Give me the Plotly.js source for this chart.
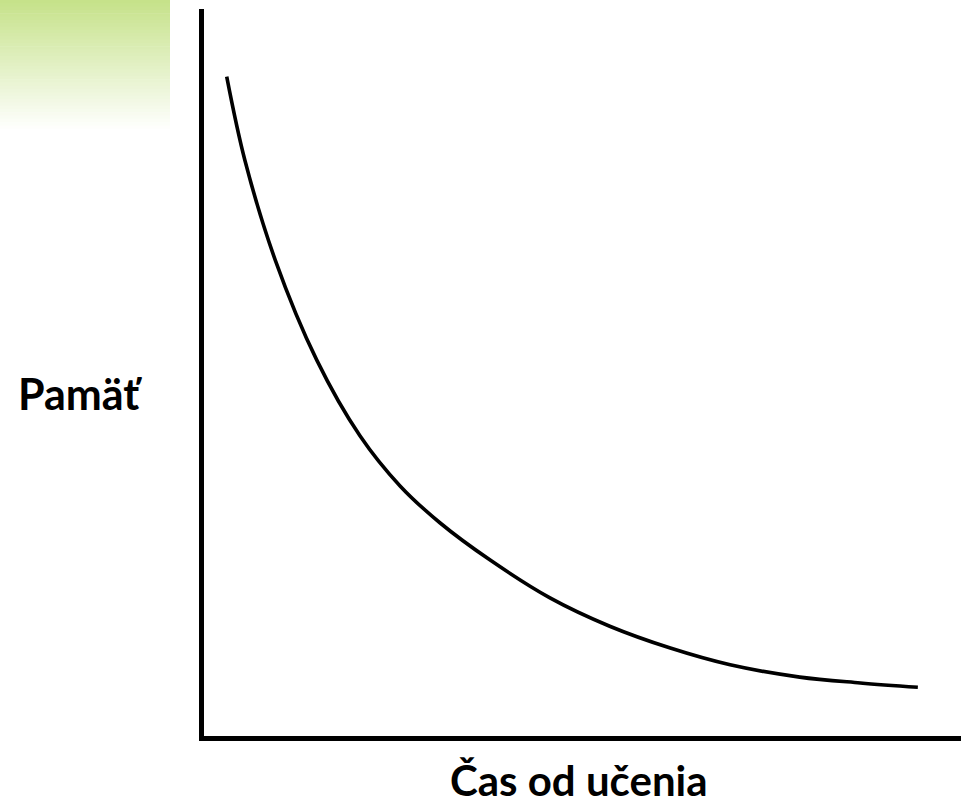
<!DOCTYPE html>
<html>
<head>
<meta charset="utf-8">
<script src="https://cdn.plot.ly/plotly-3.0.1.min.js"></script>
<style>
  html, body { margin: 0; padding: 0; background: #ffffff; }
  #chart { width: 961px; height: 808px; }
</style>
</head>
<body>
<div id="chart"></div>
<script>
// Forgetting curve (relative units 0-100)
const timeSinceLearning = [3.0, 5.4, 9.4, 14.9, 20.6, 25.9, 31.2, 37.8, 45.7, 53.6, 61.6, 69.5, 78.7, 86.7, 94.3];
const memory = [90.7, 79.2, 65.5, 51.7, 41.3, 34.4, 29.3, 24.2, 19.0, 15.1, 12.1, 9.8, 8.1, 7.3, 6.7];
const xAxisLabel = "Čas od učenia";
const yAxisLabel = "Pamäť";

const W = 961, H = 808;

// green gradient decoration in the top-left corner (built from thin bands)
const shapes = [];
const bands = 40;
const gTop = [198, 226, 138];
const gBot = [255, 255, 255];
const gx1 = 170, gh = 132;
for (let i = 0; i < bands; i++) {
  const t = i / (bands - 1);
  const c = gTop.map((v, k) => Math.round(v + (gBot[k] - v) * t));
  const y0 = gh * i / bands, y1 = gh * (i + 1) / bands + 0.6;
  shapes.push({
    type: 'rect', xref: 'paper', yref: 'paper', layer: 'below',
    x0: 0, x1: gx1 / W, y0: 1 - y1 / H, y1: 1 - y0 / H,
    line: { width: 0 }, fillcolor: `rgb(${c[0]},${c[1]},${c[2]})`
  });
}

const trace = {
  x: timeSinceLearning,
  y: memory,
  type: 'scatter',
  mode: 'lines',
  line: { color: '#000000', width: 3.6, shape: 'spline', smoothing: 1 },
  hoverinfo: 'skip'
};

const layout = {
  width: W, height: H,
  margin: { l: 0, r: 0, t: 0, b: 0, pad: 0 },
  paper_bgcolor: '#ffffff',
  plot_bgcolor: 'rgba(0,0,0,0)',
  showlegend: false,
  xaxis: {
    domain: [204 / W, 1],
    range: [0, 100],
    showline: true, linecolor: '#000000', linewidth: 5,
    showgrid: false, zeroline: false, ticks: '', showticklabels: false,
    fixedrange: true
  },
  yaxis: {
    domain: [(H - 736) / H, (H - 9) / H],
    range: [0, 100],
    showline: true, linecolor: '#000000', linewidth: 5,
    showgrid: false, zeroline: false, ticks: '', showticklabels: false,
    fixedrange: true
  },
  shapes: shapes,
  annotations: [
    {
      text: '<b>' + yAxisLabel + '</b>', xref: 'paper', yref: 'paper',
      x: 16 / W, y: 1 - 393 / H, xanchor: 'left', yanchor: 'middle',
      showarrow: false,
      font: { family: 'Lato, "Open Sans", sans-serif', size: 43, color: '#000000' }
    },
    {
      text: '<b>' + xAxisLabel + '</b>', xref: 'paper', yref: 'paper',
      x: 579 / W, y: 1 - 780 / H, xanchor: 'center', yanchor: 'middle',
      showarrow: false,
      font: { family: 'Lato, "Open Sans", sans-serif', size: 42, color: '#000000' }
    }
  ]
};

Plotly.newPlot('chart', [trace], layout, { displayModeBar: false, staticPlot: true });
</script>
</body>
</html>
